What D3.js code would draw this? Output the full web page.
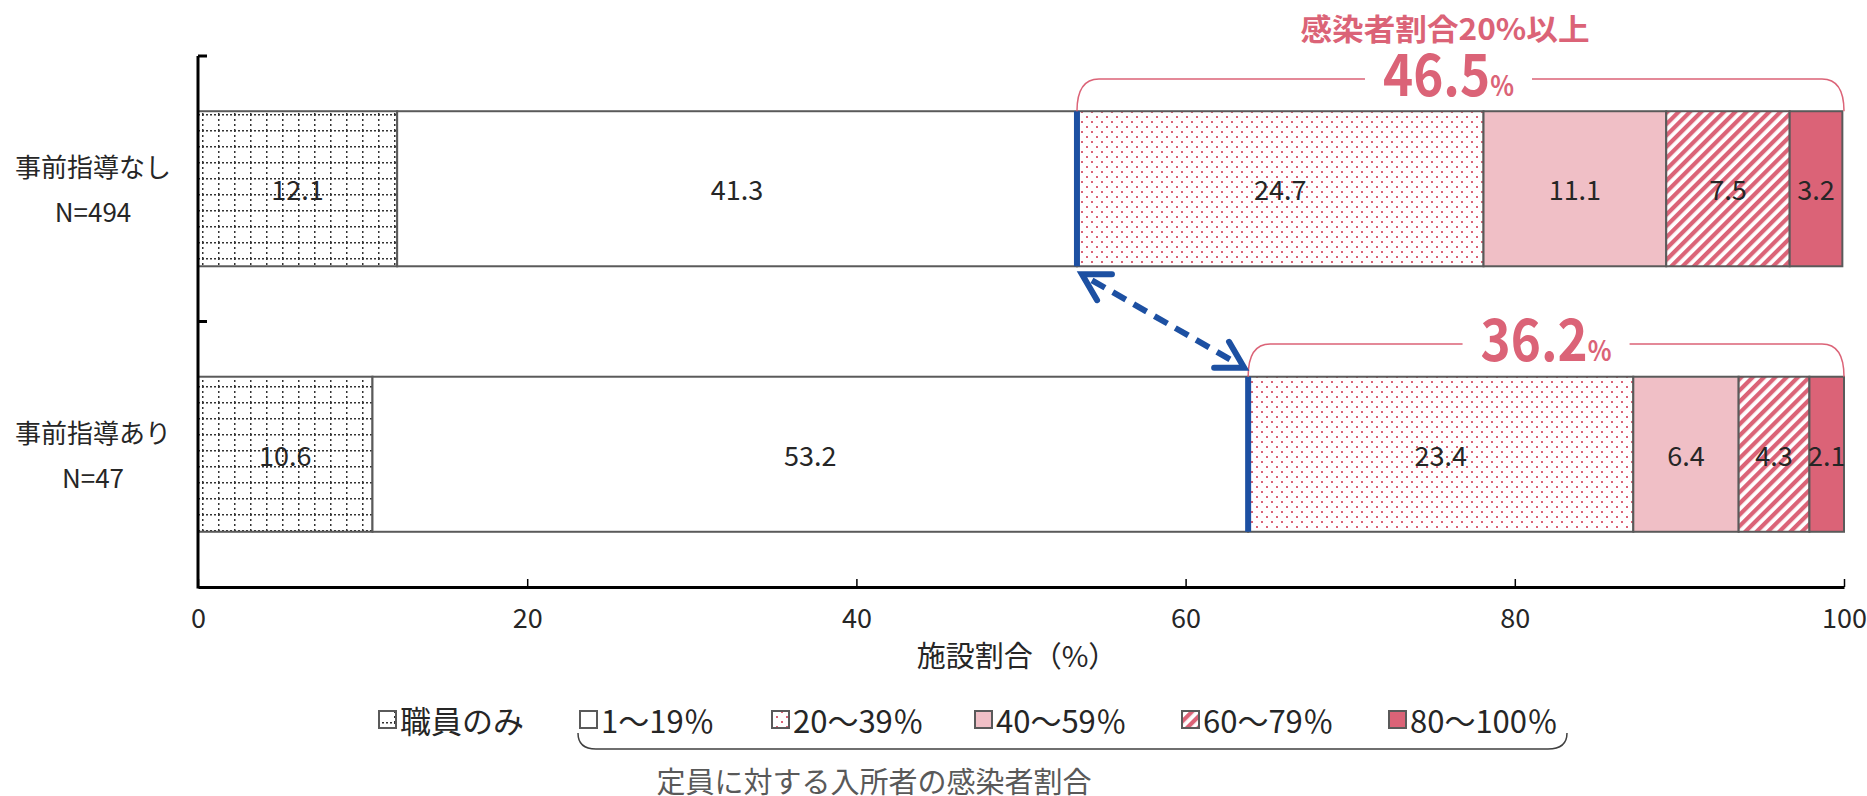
<!DOCTYPE html>
<html><head><meta charset="utf-8">
<script src="https://cdn.jsdelivr.net/npm/d3@7"></script>
<style>
html,body{margin:0;padding:0;background:#fff;}
svg{display:block;font-family:"Noto Sans CJK JP","Noto Sans",sans-serif;}
</style></head>
<body>
<svg id="chart" width="1867" height="796"></svg>
<script>
// ---------- data ----------
const categories = ["事前指導なし", "事前指導あり"];
const sampleSizes = ["N=494", "N=47"];
const seriesNames = ["職員のみ", "1～19％", "20～39％", "40～59％", "60～79％", "80～100％"];
const staffOnly  = [12.1, 10.6];
const pct1to19   = [41.3, 53.2];
const pct20to39  = [24.7, 23.4];
const pct40to59  = [11.1, 6.4];
const pct60to79  = [7.5, 4.3];
const pct80to100 = [3.2, 2.1];
const highTotals = ["46.5", "36.2"];
const xTicks = [0, 20, 40, 60, 80, 100];
const axisTitle = "施設割合（%）";
const topNote = "感染者割合20%以上";
const legendNote = "定員に対する入所者の感染者割合";

// ---------- setup ----------
const svg = d3.select("#chart");
const pink = "#db6377", pinkLight = "#f0bfc6", blue = "#1d50a2", textCol = "#262626";
const x = d3.scaleLinear().domain([0, 100]).range([198, 1844]);
const y = d3.scaleBand().domain(categories).range([56, 587]).padding(0);
const barH = y.bandwidth() * 0.584;
const barY = c => y(c) + (y.bandwidth() - barH) / 2;

const seriesArrays = [staffOnly, pct1to19, pct20to39, pct40to59, pct60to79, pct80to100];
const rows = categories.map((c, i) => {
  const r = { cat: c };
  seriesNames.forEach((s, j) => r[s] = seriesArrays[j][i]);
  return r;
});
const stacked = d3.stack().keys(seriesNames)(rows);

// ---------- patterns ----------
const defs = svg.append("defs");
const grid = defs.append("pattern").attr("id", "pGrid").attr("patternUnits", "userSpaceOnUse")
  .attr("width", 16).attr("height", 16).attr("x", 202).attr("y", 2);
grid.append("rect").attr("width", 16).attr("height", 16).attr("fill", "#fff");
grid.append("line").attr("x1", 0).attr("x2", 16).attr("y1", 0.75).attr("y2", 0.75)
  .attr("stroke", "#333").attr("stroke-width", 1.5).attr("stroke-dasharray", "2,2");
grid.append("line").attr("x1", 0.75).attr("x2", 0.75).attr("y1", 0).attr("y2", 16)
  .attr("stroke", "#333").attr("stroke-width", 1.5).attr("stroke-dasharray", "2,3");

const dots = defs.append("pattern").attr("id", "pDots").attr("patternUnits", "userSpaceOnUse")
  .attr("width", 10).attr("height", 10);
dots.append("rect").attr("width", 10).attr("height", 10).attr("fill", "#fff");
dots.append("rect").attr("x", 1).attr("y", 1).attr("width", 2).attr("height", 2).attr("fill", pink);
dots.append("rect").attr("x", 6).attr("y", 6).attr("width", 2).attr("height", 2).attr("fill", pink);

const stripes = defs.append("pattern").attr("id", "pStripe").attr("patternUnits", "userSpaceOnUse")
  .attr("width", 8).attr("height", 8).attr("patternTransform", "rotate(45)");
stripes.append("rect").attr("width", 8).attr("height", 8).attr("fill", "#fff");
stripes.append("rect").attr("width", 4.2).attr("height", 8).attr("fill", pink);

const fills = ["url(#pGrid)", "#fff", "url(#pDots)", pinkLight, "url(#pStripe)", pink];

// ---------- bars ----------
const g = svg.append("g");
stacked.forEach((s, si) => {
  g.selectAll(null).data(s).join("rect")
    .attr("x", d => x(d[0])).attr("y", d => barY(d.data.cat))
    .attr("width", d => x(d[1]) - x(d[0])).attr("height", barH)
    .attr("fill", fills[si]).attr("stroke", "#5a5a5a").attr("stroke-width", 2);
  g.selectAll(null).data(s).join("text")
    .attr("x", d => (x(d[0]) + x(d[1])) / 2).attr("y", d => barY(d.data.cat) + barH / 2)
    .attr("text-anchor", "middle").attr("dominant-baseline", "central")
    .attr("font-size", 27).attr("fill", textCol)
    .text(d => d3.format(".1f")(d[1] - d[0]));
});

// blue boundary lines between <20% and >=20%
const boundary = stacked[1];
g.selectAll(null).data(boundary).join("line")
  .attr("x1", d => x(d[1])).attr("x2", d => x(d[1]))
  .attr("y1", d => barY(d.data.cat)).attr("y2", d => barY(d.data.cat) + barH)
  .attr("stroke", blue).attr("stroke-width", 6);

// ---------- axes ----------
const xAxis = d3.axisBottom(x).tickValues(xTicks).tickSize(-8).tickPadding(22).tickSizeOuter(0)
  .tickFormat(d3.format("d"));
const ax = svg.append("g").attr("transform", "translate(0,587)").call(xAxis);
ax.select(".domain").attr("stroke", "#000").attr("stroke-width", 3);
ax.selectAll(".tick line").attr("stroke", "#000").attr("stroke-width", 1.5);
ax.selectAll(".tick text").attr("font-size", 27).attr("fill", textCol)
  .attr("font-family", '"Noto Sans CJK JP",sans-serif');

svg.append("line").attr("x1", 198).attr("x2", 198).attr("y1", 56).attr("y2", 588.5)
  .attr("stroke", "#000").attr("stroke-width", 3);
svg.selectAll(null).data(categories).join("line")
  .attr("x1", 198).attr("x2", 207).attr("y1", d => y(d)).attr("y2", d => y(d))
  .attr("stroke", "#000").attr("stroke-width", 3);

svg.append("text").attr("x", (x(0) + x(100)) / 2 - 4).attr("y", 654)
  .attr("text-anchor", "middle").attr("dominant-baseline", "central")
  .attr("font-size", 29).attr("fill", textCol).text(axisTitle);

// category labels
categories.forEach((c, i) => {
  const cy = y(c) + y.bandwidth() / 2;
  svg.append("text").attr("x", 93).attr("y", cy - 23).attr("text-anchor", "middle")
    .attr("dominant-baseline", "central").attr("font-size", 26).attr("fill", textCol).text(c);
  svg.append("text").attr("x", 93).attr("y", cy + 22).attr("text-anchor", "middle")
    .attr("dominant-baseline", "central").attr("font-size", 26).attr("fill", textCol).text(sampleSizes[i]);
});

// ---------- annotations (braces) ----------
function brace(x1, x2, yb, yt, gapL, gapR) {
  const r = 22;
  const p = d3.path();
  p.moveTo(x1, yb); p.quadraticCurveTo(x1, yt, x1 + r, yt); p.lineTo(gapL, yt);
  p.moveTo(gapR, yt); p.lineTo(x2 - r, yt); p.quadraticCurveTo(x2, yt, x2, yb);
  svg.append("path").attr("d", p.toString()).attr("fill", "none")
    .attr("stroke", pink).attr("stroke-width", 1.5);
}
const braceTop = [79, 344];
const textW = 131;
categories.forEach((c, i) => {
  const x1 = x(boundary[i][1]), x2 = x(100);
  const cx = (x1 + x2) / 2 - (i === 0 ? 12 : 0);
  brace(x1, x2, barY(c), braceTop[i], cx - textW / 2 - 18, cx + textW / 2 + 18);
  const t = svg.append("text").attr("x", cx - textW / 2).attr("y", braceTop[i] + 17)
    .attr("fill", pink).attr("font-weight", "bold")
    .attr("textLength", textW).attr("lengthAdjust", "spacingAndGlyphs");
  t.append("tspan").attr("font-size", 58).text(highTotals[i]);
  t.append("tspan").attr("font-size", 28).text("%");
});
svg.append("text").attr("x", 1445).attr("y", 27).attr("text-anchor", "middle")
  .attr("dominant-baseline", "central").attr("fill", pink).attr("font-weight", "bold")
  .attr("font-size", 30).attr("textLength", 289).attr("lengthAdjust", "spacingAndGlyphs")
  .text(topNote);

// dashed double arrow
const a0 = [x(boundary[0][1]) + 5, barY(categories[0]) + barH + 8];
const a1 = [x(boundary[1][1]) - 4, barY(categories[1]) - 9];
svg.append("line").attr("x1", a0[0] + 10).attr("y1", a0[1] + 6).attr("x2", a1[0] - 10).attr("y2", a1[1] - 6)
  .attr("stroke", blue).attr("stroke-width", 6).attr("stroke-dasharray", "15,9");
function head(tip, from) {
  const ang = Math.atan2(from[1] - tip[1], from[0] - tip[0]);
  const L = 30, sp = 0.52;
  const p1 = [tip[0] + L * Math.cos(ang - sp), tip[1] + L * Math.sin(ang - sp)];
  const p2 = [tip[0] + L * Math.cos(ang + sp), tip[1] + L * Math.sin(ang + sp)];
  svg.append("path").attr("d", `M${p1}L${tip}L${p2}`).attr("fill", "none")
    .attr("stroke", blue).attr("stroke-width", 6).attr("stroke-linecap", "round").attr("stroke-linejoin", "miter");
}
head(a0, a1); head(a1, a0);

// ---------- legend ----------
const legendX = [379, 580, 772, 975, 1182, 1389];
const lg = svg.append("g");
seriesNames.forEach((s, i) => {
  lg.append("rect").attr("x", legendX[i]).attr("y", 711).attr("width", 17).attr("height", 17)
    .attr("fill", fills[i]).attr("stroke", "#5a5a5a").attr("stroke-width", 2);
  lg.append("text").attr("x", legendX[i] + 21).attr("y", 719).attr("dominant-baseline", "central")
    .attr("font-size", 31).attr("fill", textCol).text(s);
});
const lb = d3.path();
lb.moveTo(578, 733); lb.quadraticCurveTo(578, 749, 596, 749); lb.lineTo(1548, 749);
lb.quadraticCurveTo(1567, 749, 1567, 733);
svg.append("path").attr("d", lb.toString()).attr("fill", "none").attr("stroke", "#404040").attr("stroke-width", 1.5);
svg.append("text").attr("x", 874).attr("y", 780).attr("text-anchor", "middle").attr("dominant-baseline", "central")
  .attr("font-size", 29).attr("fill", "#595959").text(legendNote);
</script>
</body></html>
